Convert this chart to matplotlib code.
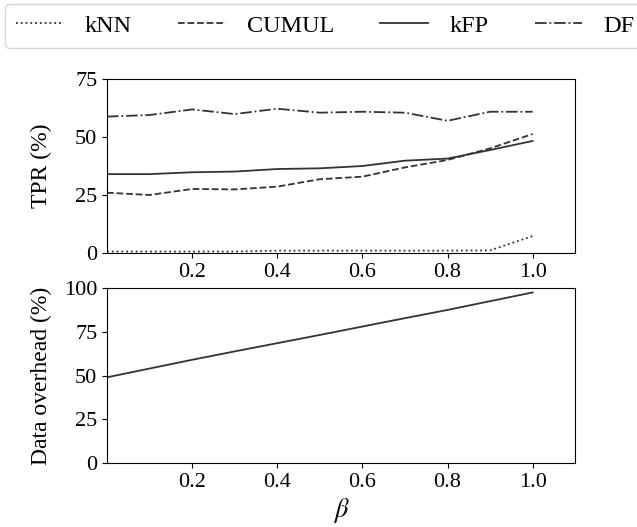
import numpy as np
import matplotlib
matplotlib.use("Agg")
import matplotlib.pyplot as plt

plt.rcParams['font.family'] = ['Liberation Serif', 'DejaVu Serif']
plt.rcParams['mathtext.fontset'] = 'stix'

beta = [0.0, 0.1, 0.2, 0.3, 0.4, 0.5, 0.6, 0.7, 0.8, 0.9, 1.0]
knn = [0.6, 0.6, 0.6, 0.6, 1.0, 1.0, 1.0, 1.0, 1.0, 1.1, 7.3]
cumul = [26.0, 25.0, 27.6, 27.4, 28.6, 31.8, 32.9, 36.9, 40.1, 45.1, 51.3]
kfp = [34.0, 34.0, 34.8, 35.1, 36.2, 36.5, 37.5, 39.8, 40.7, 44.4, 48.3]
df = [58.8, 59.5, 61.9, 59.9, 62.2, 60.5, 60.9, 60.5, 57.0, 60.9, 60.9]
overhead = [49.0, 54.0, 59.0, 63.8, 68.5, 73.2, 78.0, 82.8, 87.5, 92.5, 97.5]

col = '#333333'
fig = plt.figure(figsize=(6.37, 5.27), dpi=100)
ax1 = fig.add_axes([0.168, 0.520, 0.735, 0.330])
ax2 = fig.add_axes([0.168, 0.1214, 0.735, 0.332])

l1, = ax1.plot(beta, knn, ls=':', color=col, lw=1.3, label='kNN')
l2, = ax1.plot(beta, cumul, ls='--', color=col, lw=1.3, label='CUMUL')
l3, = ax1.plot(beta, kfp, ls='-', color=col, lw=1.3, label='kFP')
l4, = ax1.plot(beta, df, ls='-.', color=col, lw=1.3, label='DF')
ax2.plot(beta, overhead, ls='-', color=col, lw=1.3)

for ax in (ax1, ax2):
    ax.set_xlim(0, 1.1)
    ax.set_xticks([0.2, 0.4, 0.6, 0.8, 1.0])
    ax.tick_params(labelsize=16)
ax1.set_ylim(0, 75)
ax1.set_yticks([0, 25, 50, 75])
ax2.set_ylim(0, 100)
ax2.set_yticks([0, 25, 50, 75, 100])
ax1.set_ylabel('TPR (%)', fontsize=17)
ax2.set_ylabel('Data overhead (%)', fontsize=17)
ax1.yaxis.set_label_coords(-0.117, 0.5)
ax2.yaxis.set_label_coords(-0.117, 0.5)
ax2.set_xlabel(r'$\beta$', fontsize=19, labelpad=3)

fig.legend(handles=[l1, l2, l3, l4], loc='upper left', bbox_to_anchor=(0.008, 0.993),
           borderaxespad=0, ncol=4, fontsize=17.5, frameon=True, columnspacing=1.9,
           handlelength=1.97, handletextpad=0.86, borderpad=0.45)

fig.savefig('out.png', dpi=100)
